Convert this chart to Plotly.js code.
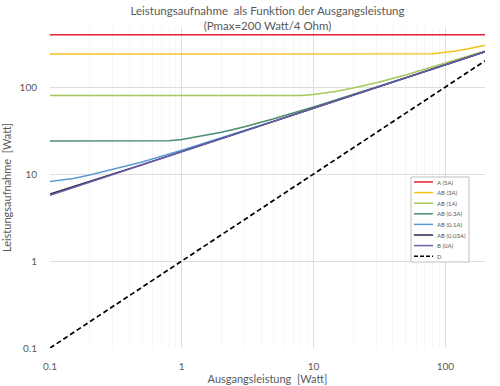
<!DOCTYPE html>
<html><head><meta charset="utf-8">
<script src="https://cdn.plot.ly/plotly-3.0.1.min.js"></script>
<style>html,body{margin:0;padding:0;background:#fff}#chart{width:500px;height:386px}</style>
</head><body><div id="chart"></div>
<script>
// Output power [W]
const xA = [0.1, 200];
const yA = [400, 400];
const x3A = [0.1, 1, 10, 72, 80, 90, 100, 120, 150, 170, 200];
const y3A = [240, 240, 240, 240, 241.8, 245.6, 250.0, 260.1, 276.0, 286.6, 302.0];
const x1A = [0.1, 1, 8, 10, 15, 20, 30, 50, 100, 200];
const y1A = [80, 80, 80, 81.9, 89.4, 97.2, 112.1, 137.7, 187.3, 259.8];
const x03A = [0.1, 0.72, 0.8, 1, 1.5, 2, 3, 5, 10, 20, 50, 100, 200];
const y03A = [24, 24, 24.2, 25.0, 27.6, 30.2, 35.0, 43.2, 59.0, 82.0, 128.3, 180.7, 255.0];
const x01A = [0.1, 0.15, 0.2, 0.3, 0.5, 1, 2, 5, 10, 20, 50, 100, 200];
const y01A = [8.18, 8.9, 9.72, 11.3, 13.77, 18.73, 25.98, 40.58, 57.17, 80.6, 127.4, 180.2, 254.7];
const x003A = [0.1, 0.2, 0.5, 1, 2, 5, 10, 20, 50, 100, 200];
const y003A = [5.90, 8.20, 12.82, 18.07, 25.51, 40.3, 57.0, 80.5, 127.3, 180.1, 254.6];
const xB = [0.1, 0.2, 0.5, 1, 2, 5, 10, 20, 50, 100, 200];
const yB = [5.69, 8.05, 12.73, 18.0, 25.46, 40.26, 56.94, 80.5, 127.3, 180.1, 254.6];
const xD = [0.1, 200];
const yD = [0.1, 200];

const names = ['A (5A)', 'AB (3A)', 'AB (1A)', 'AB (0.3A)', 'AB (0.1A)', 'AB (0.03A)', 'B (0A)', 'D'];
const colors = ['#e8212e', '#f2c21b', '#a7c75a', '#4a8c6b', '#5a9bd5', '#252a48', '#6b5ca8', '#000000'];
const xs = [xA, x3A, x1A, x03A, x01A, x003A, xB, xD];
const ys = [yA, y3A, y1A, y03A, y01A, y003A, yB, yD];
const dashD = '5px,3px';

const traces = names.map((n, i) => ({
  x: xs[i], y: ys[i], name: n, type: 'scatter', mode: 'lines', showlegend: false,
  line: {color: colors[i], width: i === 7 ? 1.7 : 1.5, dash: i === 7 ? dashD : 'solid'}
}));

// custom compact legend (pixel layout converted to paper coords)
const W = 500, H = 386, L = 50, R = 15, T = 27, B = 38;
const pw = W - L - R, ph = H - T - B;
const px = v => (v - L) / pw;
const py = v => (H - B - v) / ph;
const shapes = [{type: 'rect', xref: 'paper', yref: 'paper', x0: px(411), x1: px(469), y0: py(177), y1: py(262),
                 line: {color: '#bfbfbf', width: 1}, fillcolor: '#ffffff', layer: 'above'}];
const annotations = [];
names.forEach((n, i) => {
  const yy = 182 + i * 10.6;
  shapes.push({type: 'line', xref: 'paper', yref: 'paper', x0: px(414), x1: px(433), y0: py(yy), y1: py(yy),
               line: {color: colors[i], width: 1.5, dash: i === 7 ? '4px,2px' : 'solid'}, layer: 'above'});
  annotations.push({xref: 'paper', yref: 'paper', x: px(435), y: py(yy), xanchor: 'left', yanchor: 'middle',
                    text: n, showarrow: false, font: {size: 6, color: '#595959'}});
});

const gray = '#595959';
const minorV = [0.2,0.3,0.4,0.5,0.6,0.7,0.8,0.9,2,3,4,5,6,7,8,9,20,30,40,50,60,70,80,90,200];
const layout = {
  width: W, height: H,
  margin: {l: L, r: R, t: T, b: B},
  paper_bgcolor: '#fff', plot_bgcolor: '#fff',
  font: {family: 'Lato, "Open Sans", sans-serif', color: gray, size: 10},
  title: {text: 'Leistungsaufnahme  als Funktion der Ausgangsleistung<br>(Pmax=200 Watt/4 Ohm)',
          x: 0.5, xanchor: 'center', xref: 'paper', y: 0.960, yanchor: 'middle',
          font: {size: 11.5, color: gray}},
  xaxis: {type: 'log', range: [-1, Math.log10(200)], tickvals: [0.1, 1, 10, 100], ticktext: ['0.1', '1', '10', '100'],
          showgrid: true, gridcolor: '#dedede', gridwidth: 1, zeroline: false, showline: false,
          ticks: 'outside', ticklen: 9, tickcolor: 'rgba(0,0,0,0)',
          minor: {showgrid: true, gridcolor: '#f6f6f6', tickvals: minorV, ticks: ''},
          tickfont: {size: 10, color: gray},
          title: {text: 'Ausgangsleistung  [Watt]', font: {size: 11, color: gray}, standoff: 2}},
  yaxis: {type: 'log', range: [-1, 2.69], tickvals: [0.1, 1, 10, 100], ticktext: ['0.1', '1', '10', '100'],
          showgrid: true, gridcolor: '#dedede', gridwidth: 1, zeroline: false, showline: false,
          ticks: 'outside', ticklen: 10, tickcolor: 'rgba(0,0,0,0)',
          tickfont: {size: 10, color: gray},
          title: {text: 'Leistungsaufnahme  [Watt]', font: {size: 11, color: gray}, standoff: 6}},
  shapes: shapes, annotations: annotations,
  showlegend: false
};
Plotly.newPlot('chart', traces, layout, {displayModeBar: false, staticPlot: true});
</script></body></html>
